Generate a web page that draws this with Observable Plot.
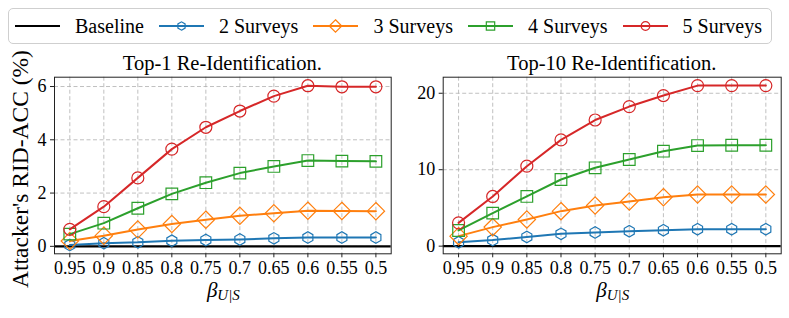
<!DOCTYPE html>
<html><head><meta charset="utf-8">
<script src="https://cdn.jsdelivr.net/npm/d3@7"></script>
<script src="https://cdn.jsdelivr.net/npm/@observablehq/plot@0.6"></script>
<style>
html,body{margin:0;padding:0;background:#fff;}
#wrap{position:relative;width:789px;height:318px;overflow:hidden;font-family:"Liberation Serif",serif;}
#wrap svg.plot{position:absolute;top:0;}
#wrap svg.plot text{font-family:"Liberation Serif",serif !important;}
#legend{position:absolute;left:8px;top:8px;width:764px;height:36px;box-sizing:border-box;border:1px solid #cfcfcf;border-radius:5px;display:flex;align-items:center;justify-content:space-between;padding:0 9px 0 6px;font-size:20px;color:#000;background:#fff;z-index:2;}
.item{display:flex;align-items:center;}
.item span{margin-left:15px;}
</style>
</head><body>
<div id="wrap"><div id="legend"></div></div>
<script>
const beta = [0.95, 0.9, 0.85, 0.8, 0.75, 0.7, 0.65, 0.6, 0.55, 0.5];
const seriesNames = ["2 Surveys", "3 Surveys", "4 Surveys", "5 Surveys"];
const baselineName = "Baseline";
const colors = ["#1f77b4", "#ff7f0e", "#2ca02c", "#d62728"];
const symbols = ["hexagon", "diamond2", "square2", "circle"];
const symbolR = [5, 7.8, 7.4, 6];

const top1_2 = [0.05, 0.12, 0.15, 0.21, 0.24, 0.26, 0.30, 0.33, 0.33, 0.33];
const top1_3 = [0.20, 0.40, 0.63, 0.84, 1.00, 1.15, 1.24, 1.34, 1.33, 1.32];
const top1_4 = [0.46, 0.87, 1.43, 1.97, 2.39, 2.75, 3.00, 3.22, 3.20, 3.19];
const top1_5 = [0.64, 1.49, 2.57, 3.65, 4.47, 5.08, 5.64, 6.03, 5.99, 5.99];

const top10_2 = [0.50, 0.80, 1.20, 1.61, 1.79, 1.96, 2.09, 2.22, 2.22, 2.22];
const top10_3 = [1.31, 2.49, 3.49, 4.58, 5.32, 5.84, 6.41, 6.76, 6.76, 6.76];
const top10_4 = [2.05, 4.32, 6.50, 8.72, 10.25, 11.33, 12.42, 13.16, 13.20, 13.20];
const top10_5 = [3.05, 6.50, 10.46, 13.90, 16.50, 18.26, 19.70, 21.00, 21.00, 21.00];

const top1Ticks = [0, 2, 4, 6];
const top10Ticks = [0, 10, 20];
const titles = ["Top-1 Re-Identification.", "Top-10 Re-Identification."];
const yLabel = "Attacker's RID-ACC (%)";

const wrap = document.getElementById("wrap");
const FONT = "Liberation Serif";

function panel({series, yDomain, yTicks, width, ml, mr, left}) {
  const grid = {stroke: "#b0b0b0", strokeOpacity: 1, strokeWidth: 0.8, strokeDasharray: "4,2.5"};
  const marks = [
    Plot.gridX(beta, grid),
    Plot.gridY(yTicks, grid),
    Plot.ruleY([0], {stroke: "#000", strokeWidth: 2.2})
  ];
  series.forEach((vals, i) => {
    const rows = beta.map((b, j) => ({x: b, y: vals[j]}));
    marks.push(Plot.line(rows, {x: "x", y: "y", stroke: colors[i], strokeWidth: 2}));
    marks.push(Plot.dot(rows, {x: "x", y: "y", symbol: symbols[i], r: symbolR[i], stroke: colors[i], fill: "none", strokeWidth: 1.2}));
  });
  marks.push(Plot.frame({stroke: "#222", strokeWidth: 1}));
  marks.push(Plot.axisX(beta, {tickSize: 4, tickPadding: 3, tickFormat: d => String(d), label: null, stroke: "#222", fontFamily: FONT, fontSize: 18}));
  marks.push(Plot.axisY(yTicks, {tickSize: 4, tickPadding: 4, label: null, stroke: "#222", fontFamily: FONT, fontSize: 18}));
  const svg = Plot.plot({
    width, height: 318,
    marginLeft: ml, marginRight: mr, marginTop: 76.7, marginBottom: 64.7,
    x: {type: "linear", domain: [0.9725, 0.4775]},
    y: {type: "linear", domain: yDomain},
    style: {fontFamily: FONT, fontSize: "18px", color: "#000", background: "transparent", overflow: "visible"},
    marks
  });
  svg.classList.add("plot");
  svg.style.left = left + "px";
  wrap.appendChild(svg);
  return {svg, cx: ml + (width - ml - mr) / 2};
}

const p1 = panel({series: [top1_2, top1_3, top1_4, top1_5], yDomain: [-0.28, 6.35], yTicks: top1Ticks, width: 395, ml: 54, mr: 4.3, left: 0});
const p2 = panel({series: [top10_2, top10_3, top10_4, top10_5], yDomain: [-1.0, 22.1], yTicks: top10Ticks, width: 394, ml: 47.7, mr: 8.3, left: 395});

[p1, p2].forEach((p, i) => {
  const s = d3.select(p.svg);
  s.append("text").attr("x", p.cx).attr("y", 70).attr("text-anchor", "middle")
    .attr("font-size", 20.5).attr("fill", "#000").text(titles[i]);
  const xl = s.append("text").attr("x", p.cx + 1).attr("y", 297).attr("text-anchor", "middle").attr("fill", "#000");
  xl.append("tspan").attr("font-size", 21).attr("font-style", "italic").text("β");
  xl.append("tspan").attr("font-size", 15).attr("font-style", "italic").attr("dy", 3).text("U|S");
});
d3.select(p1.svg).append("text")
  .attr("transform", "translate(19.5,169) rotate(-90)")
  .attr("text-anchor", "middle").attr("dominant-baseline", "central")
  .attr("font-size", 23.5).attr("fill", "#000").text(yLabel);

// legend
const hexagon = {draw(ctx, size) {
  const rx = Math.sqrt(size / Math.PI), ry = rx * 2 / Math.sqrt(3), hy = ry / 2;
  ctx.moveTo(0, ry); ctx.lineTo(rx, hy); ctx.lineTo(rx, -hy); ctx.lineTo(0, -ry);
  ctx.lineTo(-rx, -hy); ctx.lineTo(-rx, hy); ctx.closePath();
}};
const d3sym = {hexagon, diamond2: d3.symbolDiamond2, square2: d3.symbolSquare2, circle: d3.symbolCircle};
const legend = d3.select("#legend");
const entries = [{name: baselineName, color: "#000", sym: null, r: 0}].concat(
  seriesNames.map((n, i) => ({name: n, color: colors[i], sym: symbols[i], r: symbolR[i] * 0.72})));
entries.forEach(e => {
  const it = legend.append("div").attr("class", "item");
  const sv = it.append("svg").attr("width", 45).attr("height", 24);
  sv.append("line").attr("x1", 0).attr("x2", 45).attr("y1", 12).attr("y2", 12)
    .attr("stroke", e.color).attr("stroke-width", e.sym ? 2 : 2.2);
  if (e.sym) {
    sv.append("path").attr("transform", "translate(22.5,12)")
      .attr("d", d3.symbol(d3sym[e.sym], Math.PI * e.r * e.r)())
      .attr("fill", "none").attr("stroke", e.color).attr("stroke-width", 1.2);
  }
  it.append("span").text(e.name);
});
</script>
</body></html>
